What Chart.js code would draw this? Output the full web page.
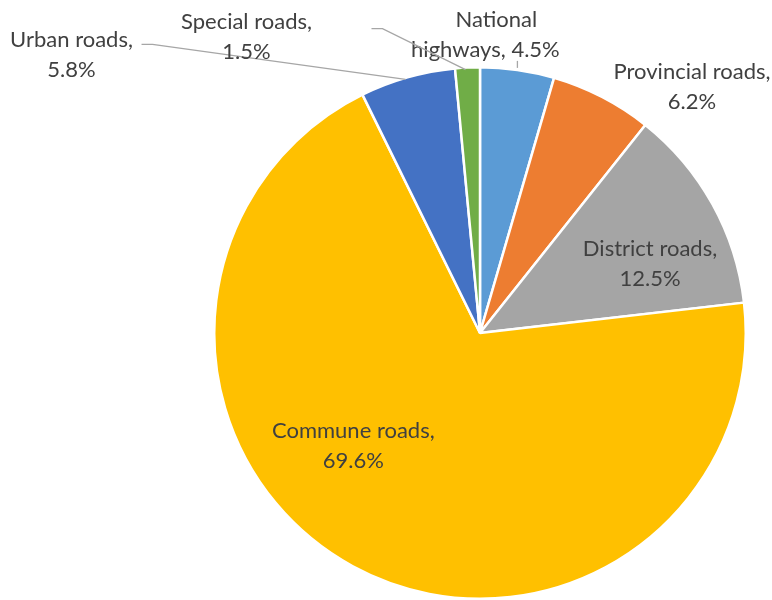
<!DOCTYPE html>
<html>
<head>
<meta charset="utf-8">
<script src="https://cdn.jsdelivr.net/npm/chart.js@4.4.1/dist/chart.umd.min.js"></script>
<style>
  html, body { margin: 0; padding: 0; background: #fff; }
  #wrap { width: 772px; height: 600px; }
</style>
</head>
<body>
<div id="wrap"><canvas id="pie-chart" width="772" height="600"></canvas></div>
<script>
// ROAD NETWORK PIE

const categories = [
  "National highways",
  "Provincial roads",
  "District roads",
  "Commune roads",
  "Urban roads",
  "Special roads",
];
const shares = [4.5, 6.2, 12.5, 69.6, 5.8, 1.5];
const colors = ["#5B9BD5", "#ED7D31", "#A5A5A5", "#FFC000", "#4472C4", "#70AD47"];

// how each label is broken over two lines (the value is appended to the second)
const firstLines = ["National", "Provincial roads,", "District roads,", "Commune roads,", "Urban roads,", "Special roads,"];
const secondLines = ["highways, ", "", "", "", "", ""];

// label placement: radius factor from the centre along the slice middle, then a nudge in px
const labelPlace = [
  { k: 1.0, dx: -32, dy: -37, leader: "tick", shift1: 11 },
  { k: 1.0, dx: 90, dy: -12 },
  { k: 0.65, dx: 19, dy: 13 },
  { k: 0.65, dx: -44, dy: -41 },
  { k: 1.0, dx: -336, dy: -24, leader: [70, -9] },
  { k: 1.0, dx: -221, dy: -33, leader: [125, -6] },
];

const sliceLabels = {
  id: "sliceLabels",
  afterDatasetsDraw(chart) {
    const ctx = chart.ctx;
    const meta = chart.getDatasetMeta(0);
    ctx.save();
    ctx.font = "22px Lato, 'Open Sans', sans-serif";
    ctx.textAlign = "center";
    ctx.textBaseline = "middle";
    meta.data.forEach((arc, i) => {
      const { x, y, startAngle, endAngle, outerRadius } = arc.getProps(
        ["x", "y", "startAngle", "endAngle", "outerRadius"], true);
      const mid = (startAngle + endAngle) / 2;
      const p = labelPlace[i];
      const edgeX = x + Math.cos(mid) * outerRadius;
      const edgeY = y + Math.sin(mid) * outerRadius;
      const lx = x + Math.cos(mid) * outerRadius * p.k + p.dx;
      const ly = y + Math.sin(mid) * outerRadius * p.k + p.dy;

      ctx.strokeStyle = "#A6A6A6";
      ctx.lineWidth = 1.3;
      if (p.leader === "tick") {
        ctx.beginPath();
        ctx.moveTo(edgeX, edgeY - 9);
        ctx.lineTo(edgeX, edgeY - 2);
        ctx.stroke();
      } else if (p.leader) {
        const sx = lx + p.leader[0];
        const sy = ly + p.leader[1];
        ctx.beginPath();
        ctx.moveTo(sx, sy);
        ctx.lineTo(sx + 11, sy);
        ctx.lineTo(edgeX - 2, edgeY + 2);
        ctx.stroke();
      }

      ctx.fillStyle = "#404040";
      const line1 = firstLines[i];
      const line2 = secondLines[i] + shares[i].toFixed(1) + "%";
      ctx.fillText(line1, lx + (p.shift1 || 0), ly - 13);
      ctx.fillText(line2, lx, ly + 17);
    });
    ctx.restore();
  },
};

const containerPieChart = document.querySelector("#pie-chart").getContext("2d");

const pieChart = new Chart(containerPieChart, {
  type: "pie",
  data: {
    labels: categories,
    datasets: [{
      data: shares,
      backgroundColor: colors,
      borderColor: "#ffffff",
      borderWidth: 2.5,
    }],
  },
  options: {
    responsive: false,
    animation: false,
    layout: { padding: { top: 66, bottom: -2, left: 188, right: 0 } },
    plugins: {
      legend: { display: false },
      tooltip: { enabled: false },
    },
  },
  plugins: [sliceLabels],
});
</script>
</body>
</html>
